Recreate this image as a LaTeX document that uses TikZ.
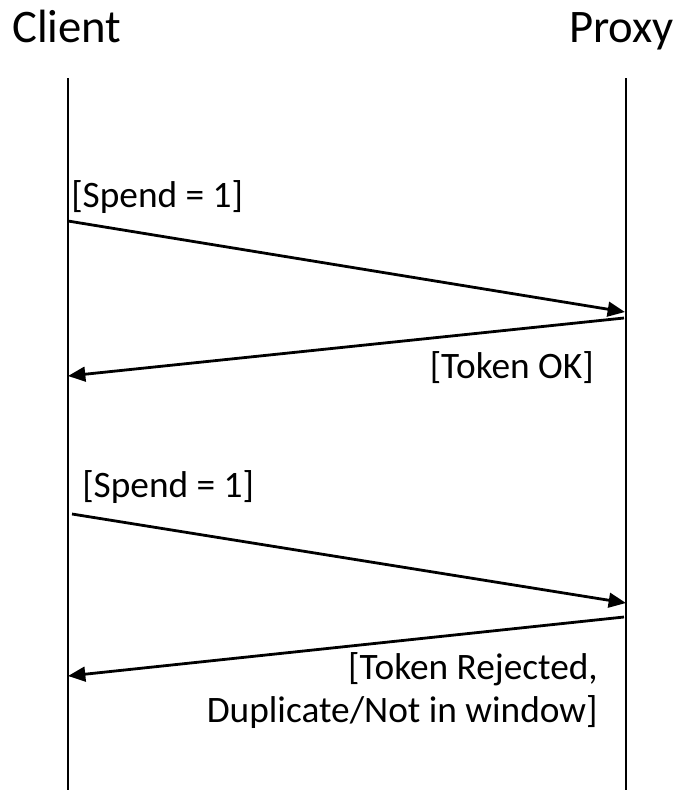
\documentclass[tikz,border=0pt]{standalone}
\usepackage{fontspec}
\setmainfont{Carlito}
\usetikzlibrary{arrows.meta}

\begin{document}
\begin{tikzpicture}[x=0.75pt, y=-0.75pt,
    lifeline/.style={line width=1.2pt},
    msg/.style={line width=2.1pt, -{Triangle[length=13pt, width=11pt]}},
    actor/.style={font=\fontsize{35}{42}\selectfont, inner sep=0pt},
    msglabel/.style={font=\fontsize{28}{32.5}\selectfont, inner sep=0pt}]
% fix the page size
\useasboundingbox (0,0) rectangle (679,790);

% define actor names
\node[actor, anchor=base west] (client) at (12,42) {Client};
\node[actor, anchor=base east] (proxy) at (674,42) {Proxy};

% define lifeline ends
\coordinate (ctop) at (68,78);
\coordinate (cbot) at (68,790);
\coordinate (ptop) at (626,78);
\coordinate (pbot) at (626,790);

% draw lifelines
\draw[lifeline] (ctop) -- (cbot);
\draw[lifeline] (ptop) -- (pbot);

% set up message end points
\coordinate (c1) at (68,221);
\coordinate (p1) at (625,312);
\coordinate (p2) at (624,318);
\coordinate (c2) at (68,376);
\coordinate (c3) at (72,514);
\coordinate (p3) at (626,603);
\coordinate (p4) at (624,617);
\coordinate (c4) at (68,676);

% first spend, accepted
\draw[msg] (c1) -- (p1);
\node[msglabel, anchor=base west] (spendA) at (71,207) {[Spend = 1]};
\draw[msg] (p2) -- (c2);
\node[msglabel, anchor=base east] (okay) at (594,378) {[Token OK]};

% second spend, rejected
\draw[msg] (c3) -- (p3);
\node[msglabel, anchor=base west] (spendB) at (82,497) {[Spend = 1]};
\draw[msg] (p4) -- (c4);
\node[msglabel, anchor=north east, align=right] (reject) at (598,652)
    {[Token Rejected,\\Duplicate/Not in window]};

\end{tikzpicture}
\end{document}
